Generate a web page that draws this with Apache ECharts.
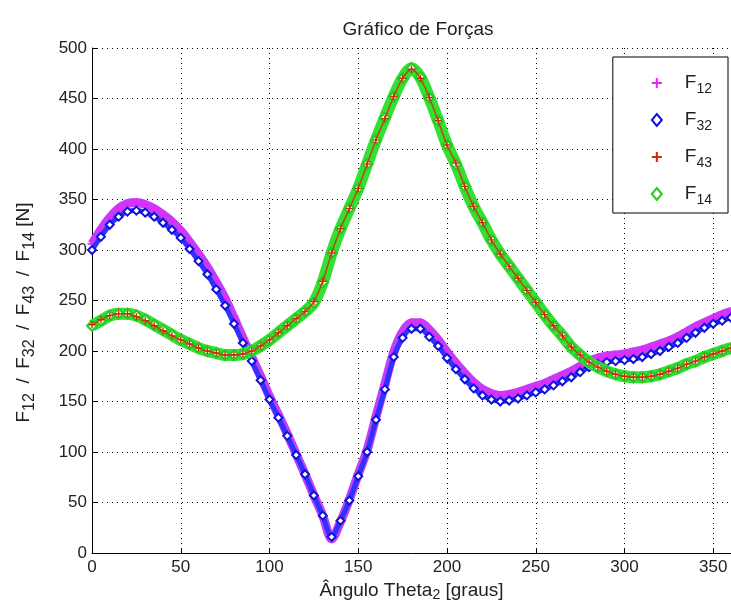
<!DOCTYPE html>
<html>
<head>
<meta charset="utf-8">
<script src="https://cdn.jsdelivr.net/npm/echarts@6/dist/echarts.min.js"></script>
<style>html,body{margin:0;padding:0;background:#fff;}#c{width:731px;height:609px;}</style>
</head>
<body>
<div id="c"></div>
<script>
var theta = [0,5,10,15,20,25,30,35,40,45,50,55,60,65,70,75,80,85,90,95,100,105,110,115,120,125,130,135,140,145,150,155,160,165,170,175,180,185,190,195,200,205,210,215,220,225,230,235,240,245,250,255,260,265,270,275,280,285,290,295,300,305,310,315,320,325,330,335,340,345,350,355,360];

var F12 = [306,320,332,341,346,347,345,341,335,328,319,308,296,283,268,252,233,213,194,175,155,137,118,98,78,57,37,14,31,53,78,102,135,167,199,219,228,228,221,211,199,188,178,169,162,158,156,157,159,162,165,168,172,176,180,185,190,193,195,196,197,199,201,204,207,210,214,219,224,228,232,236,239];
var F32 = [300,313,325,333,338,339,337,333,327,320,312,301,289,276,261,245,227,208,190,171,152,134,116,97,78,57,37,16,32,52,76,100,132,162,194,213,222,222,214,205,193,182,172,163,156,152,150,151,153,156,159,162,166,170,174,179,184,187,189,190,191,192,194,197,200,204,208,213,218,223,227,230,233];
var F43 = [226,231,235,237,237,234,230,225,220,215,211,207,203,200,198,196,196,197,200,205,211,218,225,232,239,249,269,297,321,341,361,385,409,430,452,470,479,470,451,428,404,386,363,343,327,310,296,284,272,260,248,236,225,215,204,196,189,184,180,177,175,174,174,175,177,180,183,187,190,194,197,200,203];
var F14 = [225,230,235,237,237,235,231,226,221,216,211,207,203,200,198,196,196,197,200,205,211,218,225,232,239,248,268,297,321,341,361,385,409,431,452,470,480,471,451,428,404,385,363,343,327,310,296,284,272,260,248,236,225,215,204,196,189,184,180,177,175,174,174,175,177,180,183,187,190,194,197,200,203];

var seriesNames = ['F12','F32','F43','F14'];
var xTicks = [0,50,100,150,200,250,300,350];
var yTicks = [0,50,100,150,200,250,300,350,400,450,500];

function pairs(ys){ return theta.map(function(t,i){ return [t, ys[i]]; }); }

var PLUS = 'path://M4,0H6V4H10V6H6V10H4V6H0V4H4Z';
var FONT = '"Liberation Sans",Arial,sans-serif';
var TXT = '#222';
var SP = '\u2002/\u2002';
var legendNames = {F12:'F{s|12}', F32:'F{s|32}', F43:'F{s|43}', F14:'F{s|14}'};

var chart = echarts.init(document.getElementById('c'), null, {renderer: 'canvas'});
chart.setOption({
  animation: false,
  backgroundColor: '#fff',
  title: {
    text: 'Gráfico de Forças',
    left: 413, top: 15, textAlign: 'center',
    textStyle: {fontFamily: FONT, fontSize: 19, fontWeight: 'normal', color: TXT}
  },
  grid: {left: 92, right: -5, top: 48, bottom: 56, containLabel: false},
  legend: {
    orient: 'vertical',
    right: 3, top: 57,
    backgroundColor: '#fff',
    borderColor: '#000', borderWidth: 1, borderRadius: 0,
    padding: [16, 16, 6, 38],
    itemGap: 14,
    itemWidth: 10, itemHeight: 12,
    data: [
      {name: 'F12', icon: PLUS},
      {name: 'F32', icon: 'emptyDiamond'},
      {name: 'F43', icon: PLUS},
      {name: 'F14', icon: 'emptyDiamond'}
    ],
    formatter: function(n){ return legendNames[n]; },
    textStyle: {
      fontFamily: FONT, fontSize: 19, color: TXT, padding: [0,0,0,18], height: 20, lineHeight: 20,
      rich: {s: {fontSize: 14, fontFamily: FONT, color: TXT, padding: [12,0,0,0]}}
    }
  },
  xAxis: {
    type: 'value', min: 0, max: 360, interval: 50,
    name: 'Ângulo Theta{s|2} [graus]',
    nameLocation: 'middle', nameGap: 26,
    nameTextStyle: {fontFamily: FONT, fontSize: 19, color: TXT, rich: {s: {fontSize: 14, fontFamily: FONT, color: TXT, padding: [9,0,0,0]}}},
    axisLine: {show: true, onZero: false, lineStyle: {color: '#000', width: 1}},
    axisTick: {show: true, inside: true, length: 5, lineStyle: {color: '#000'}},
    axisLabel: {fontFamily: FONT, fontSize: 17, color: TXT, margin: 6, showMaxLabel: false,
      formatter: function(v){ return xTicks.indexOf(v) >= 0 ? String(v) : ''; }},
    splitLine: {show: true, lineStyle: {color: '#000', type: [1, 4], width: 1}}
  },
  yAxis: {
    type: 'value', min: 0, max: 500, interval: 50,
    name: 'F{s|12}' + SP + 'F{s|32}' + SP + 'F{s|43}' + SP + 'F{s|14} [N]',
    nameLocation: 'middle', nameGap: 54, nameRotate: 90,
    nameTextStyle: {fontFamily: FONT, fontSize: 19, color: TXT, padding: [0, 24, 0, 0],
      rich: {s: {fontSize: 16, fontFamily: FONT, color: TXT, padding: [12,0,0,0]}}},
    axisLine: {show: true, onZero: false, lineStyle: {color: '#000', width: 1}},
    axisTick: {show: true, inside: true, length: 5, lineStyle: {color: '#000'}},
    axisLabel: {fontFamily: FONT, fontSize: 17, color: TXT, margin: 5,
      formatter: function(v){ return yTicks.indexOf(v) >= 0 ? String(v) : ''; }},
    splitLine: {show: true, lineStyle: {color: '#000', type: [1, 4], width: 1}}
  },
  series: [
    {name: 'F12', type: 'line', data: pairs(F12), smooth: 0.3, z: 2,
     symbol: PLUS, symbolSize: 9, showAllSymbol: true,
     itemStyle: {color: '#ee22ff'}, lineStyle: {color: '#c040f8', width: 9}},
    {name: 'F32', type: 'line', data: pairs(F32), smooth: 0.3, z: 3,
     symbol: 'emptyDiamond', symbolSize: 8, showAllSymbol: true,
     itemStyle: {color: '#1010dd'}, lineStyle: {color: '#3030ff', width: 5}},
    {name: 'F14', type: 'line', data: pairs(F14), smooth: 0.3, z: 4,
     symbol: 'emptyDiamond', symbolSize: 10, showAllSymbol: true,
     itemStyle: {color: '#22cc22'}, lineStyle: {color: '#33e033', width: 12}},
    {name: 'F43', type: 'line', data: pairs(F43), smooth: 0.3, z: 5,
     symbol: PLUS, symbolSize: 7, showAllSymbol: true,
     itemStyle: {color: '#cc2a00'}, lineStyle: {color: '#b84a10', width: 1.5}}
  ]
});
</script>
</body>
</html>
